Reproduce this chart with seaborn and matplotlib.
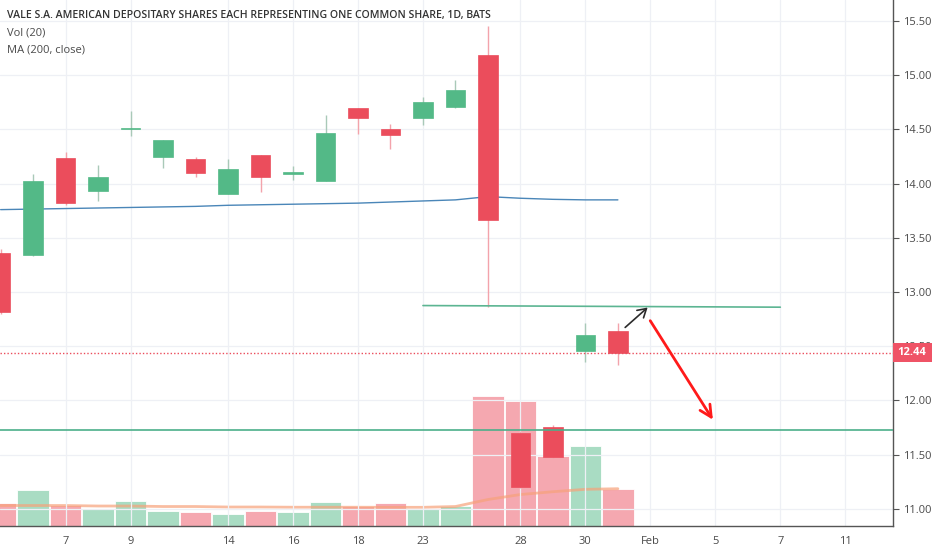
import numpy as np
import pandas as pd
import matplotlib
matplotlib.use("Agg")
import matplotlib.pyplot as plt
import matplotlib.transforms as mtransforms
from matplotlib.patches import Rectangle
import seaborn as sns

# sessions on the x axis (trading days only, incl. future ones shown on the axis)
sessions = ["Jan 3", "Jan 4", "Jan 7", "Jan 8", "Jan 9", "Jan 10", "Jan 11",
            "Jan 14", "Jan 15", "Jan 16", "Jan 17", "Jan 18", "Jan 22", "Jan 23",
            "Jan 24", "Jan 25", "Jan 28", "Jan 29", "Jan 30", "Jan 31",
            "Feb 1", "Feb 4", "Feb 5", "Feb 6", "Feb 7", "Feb 8", "Feb 11", "Feb 12"]

opens = [13.36, 13.34, 14.24, 13.935, 14.50, 14.25, 14.225, 13.90, 14.26, 14.085,
         14.02, 14.70, 14.50, 14.605, 14.705, 15.185, 11.70, 11.75, 12.455, 12.64]
highs = [13.40, 14.09, 14.29, 14.17, 14.67, 14.40, 14.25, 14.23, 14.26, 14.16,
         14.63, 14.70, 14.55, 14.80, 14.96, 15.45, 11.72, 11.77, 12.71, 12.715]
lows = [12.80, 13.33, 13.80, 13.84, 14.435, 14.145, 14.06, 13.90, 13.92, 14.03,
        14.02, 14.46, 14.315, 14.54, 14.70, 12.86, 11.19, 11.47, 12.35, 12.33]
closes = [12.82, 14.02, 13.82, 14.065, 14.51, 14.40, 14.10, 14.135, 14.06, 14.11,
          14.47, 14.605, 14.445, 14.75, 14.86, 13.66, 11.20, 11.475, 12.60, 12.44]

# volume (millions) and its 20-day average
volume = [23.3, 36.0, 21.3, 16.7, 25.0, 15.3, 14.3, 11.7, 15.3, 14.3,
          24.3, 20.3, 23.0, 16.7, 20.0, 130.3, 124.7, 69.7, 80.3, 37.0]
vol_ma = [20.5, 20.5, 20.5, 20.0, 20.0, 19.5, 19.5, 19.0, 19.0, 18.8,
          18.8, 18.8, 18.7, 18.7, 19.5, 26.5, 31.5, 34.3, 36.7, 37.3]

# MA (200, close)
ma200 = [13.76, 13.765, 13.77, 13.775, 13.78, 13.785, 13.79, 13.80, 13.805, 13.81,
         13.815, 13.82, 13.83, 13.84, 13.85, 13.88, 13.865, 13.855, 13.85, 13.85]

last_price = 12.44
resist_line = (13, 24, 12.875, 12.86)       # from session, to session, price, price
support_price = 11.73
up_arrow = (19.16, 12.656, 19.98, 12.874)
down_arrow = (19.95, 12.757, 21.97, 11.80)

tick_sessions = ["Jan 7", "Jan 9", "Jan 14", "Jan 16", "Jan 18", "Jan 23", "Jan 28",
                 "Jan 30", "Feb 1", "Feb 5", "Feb 7", "Feb 11"]
tick_labels = ["7", "9", "14", "16", "18", "23", "28", "30", "Feb", "5", "7", "11"]
price_ticks = [11.0, 11.5, 12.0, 12.5, 13.0, 13.5, 14.0, 14.5, 15.0, 15.5]

df = pd.DataFrame({"session": sessions[:len(opens)], "open": opens, "high": highs,
                   "low": lows, "close": closes, "volume": volume,
                   "vol_ma": vol_ma, "ma200": ma200})
df["i"] = np.arange(len(df))
df["up"] = df["close"] >= df["open"]

GREEN = "#53b987"
RED = "#eb4d5c"
GREEN_VOL = "#a9dcc3"
RED_VOL = "#f5a8b0"
TXT = "#4a4a4a"

sns.set_theme(style="white")
plt.rcParams["font.family"] = ["Open Sans", "DejaVu Sans"]

fig = plt.figure(figsize=(9.32, 5.5), dpi=100)
ax = fig.add_axes([0.0, 0.0436, 0.9582, 0.9564])
axv = ax.twinx()
ax.set_zorder(axv.get_zorder() + 1)
ax.patch.set_visible(False)

# volume pane
vcolors = [GREEN_VOL if u else RED_VOL for u in df["up"]]
axv.bar(df["i"], df["volume"], width=0.97, color=vcolors, edgecolor="white",
        linewidth=0.6, zorder=2)
sns.lineplot(x=df["i"], y=df["vol_ma"], ax=axv, color="#f7a27a", lw=2,
             alpha=0.7, zorder=3)
axv.set_ylim(0, 526)
axv.axis("off")

# grid
x_ticks = [sessions.index(s) for s in tick_sessions]
for xt in x_ticks:
    ax.axvline(xt, color="#eef0f5", lw=0.9, zorder=0)
for yt in price_ticks:
    ax.axhline(yt, color="#eef0f5", lw=0.9, zorder=0)

# MA 200
sns.lineplot(x=df["i"], y=df["ma200"], ax=ax, color="#4a86b8", lw=1.0, zorder=3)

# candles
for _, r in df.iterrows():
    c = GREEN if r["up"] else RED
    wc = "#a9c9b8" if r["up"] else "#f3a3ab"
    ax.vlines(r["i"], r["low"], r["high"], color=wc, lw=1.0, zorder=4)
    lo = min(r["open"], r["close"])
    h = max(abs(r["close"] - r["open"]), 0.012)
    ax.bar(r["i"], h, bottom=lo, width=0.6, color=c, edgecolor=c,
           linewidth=0.5, zorder=5)

# drawings
x0, x1, p0, p1 = resist_line
ax.plot([x0, x1], [p0, p1], color="#5cb592", lw=1.2, zorder=6)
ax.axhline(support_price, color="#4caf8a", lw=1.2, zorder=6)
ax.axhline(last_price, color=RED, lw=1.0, ls=(0, (1, 1.5)), zorder=6)
ax.annotate("", xy=up_arrow[2:], xytext=up_arrow[:2],
            arrowprops=dict(arrowstyle="->,head_length=0.5,head_width=0.3",
                            color="#2b2b2b", lw=1.2), zorder=7)
ax.annotate("", xy=down_arrow[2:], xytext=down_arrow[:2],
            arrowprops=dict(arrowstyle="->,head_length=0.7,head_width=0.35",
                            color="#ff1a1a", lw=2.0), zorder=7)

# axes
ax.set_xlim(-0.02, 27.47)
ax.set_ylim(10.841, 15.694)
ax.yaxis.tick_right()
ax.set_yticks(price_ticks)
ax.set_yticklabels([f"{p:.2f}" for p in price_ticks])
ax.set_xticks(x_ticks)
ax.set_xticklabels(tick_labels)
ax.tick_params(axis="both", colors="#555555", labelcolor=TXT, labelsize=8,
               length=4, width=0.8, direction="out", pad=3)
for side in ["left", "top"]:
    ax.spines[side].set_visible(False)
for side in ["right", "bottom"]:
    ax.spines[side].set_color("#555555")
    ax.spines[side].set_linewidth(1.0)
ax.set_xlabel("")
ax.set_ylabel("")

# last price label: a red box on the price scale, reaching the right edge
trans = mtransforms.blended_transform_factory(ax.transAxes, ax.transData)
box_h = 0.17
ax.add_patch(Rectangle((1.0, last_price - box_h / 2), 0.045, box_h, transform=trans,
                       fc="#ef5366", ec="none", clip_on=False, zorder=10))
ax.text(1.021, last_price, "12.44", transform=trans, ha="center", va="center",
        fontsize=8, color="white", fontweight="bold", zorder=11, clip_on=False)

# header
fig.text(0.0075, 0.972, "VALE S.A. AMERICAN DEPOSITARY SHARES EACH REPRESENTING ONE COMMON SHARE, 1D, BATS",
         ha="left", va="center", fontsize=7.6, color="#333333", fontweight="semibold")
fig.text(0.0075, 0.940, "Vol (20)", ha="left", va="center", fontsize=8.0, color=TXT)
fig.text(0.0075, 0.909, "MA (200, close)", ha="left", va="center", fontsize=8.0, color=TXT)

fig.savefig("out.png", dpi=100)
